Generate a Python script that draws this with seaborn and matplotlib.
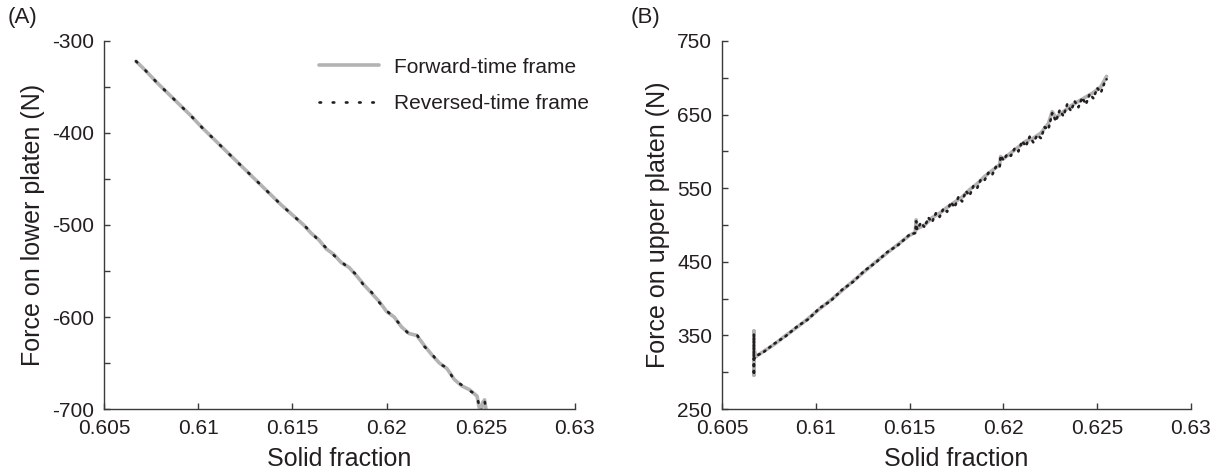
import matplotlib
matplotlib.use("Agg")
import matplotlib.pyplot as plt
from matplotlib.ticker import FixedLocator, MultipleLocator
import seaborn as sns

# ---------------- data ----------------
# (A) force on the lower platen vs solid fraction
lower_fwd_x = [0.6067, 0.6072, 0.6078, 0.6084, 0.6090, 0.6096, 0.6102, 0.6108,
               0.6114, 0.6120, 0.6126, 0.6132, 0.6138, 0.6144, 0.6150, 0.6156,
               0.6160, 0.6164, 0.6168, 0.6172, 0.6176, 0.6180, 0.6184, 0.6188,
               0.6192, 0.6196, 0.6200, 0.6204, 0.6208, 0.6212, 0.6216, 0.6220,
               0.6224, 0.6228, 0.6232, 0.6236, 0.6240, 0.6244, 0.6248, 0.6249,
               0.6250, 0.6251, 0.6252, 0.6253]
lower_fwd_y = [-322, -332, -345, -357, -369, -381, -394, -406,
               -418, -430, -442, -454, -466, -478, -489, -500,
               -509, -516, -526, -532, -541, -546, -555, -565,
               -574, -583, -594, -600, -611, -618, -620, -631,
               -641, -650, -656, -668, -675, -679, -686, -697,
               -705, -693, -690, -704]

lower_rev_x = lower_fwd_x
lower_rev_y = [-322, -332, -345, -357, -369, -381, -394, -406,
               -418, -430, -442, -454, -466, -478, -489, -500,
               -508, -517, -525, -533, -540, -547, -554, -566,
               -573, -584, -593, -601, -610, -619, -619, -632,
               -640, -651, -655, -669, -674, -680, -685, -696,
               -704, -692, -691, -703]

# (B) force on the upper platen vs solid fraction
upper_fwd_x = [0.6067, 0.6067, 0.6067, 0.6067, 0.6067, 0.6068, 0.6072, 0.6078,
               0.6084, 0.6090, 0.6096, 0.6102, 0.6108, 0.6114, 0.6120, 0.6126,
               0.6132, 0.6138, 0.6144, 0.6150, 0.6153, 0.61535, 0.6154, 0.6158,
               0.6162, 0.6166, 0.6170, 0.6174, 0.6178, 0.6182, 0.6186, 0.6190,
               0.6194, 0.6198, 0.61985, 0.6200, 0.6204, 0.6208, 0.6212, 0.6216,
               0.6220, 0.6224, 0.6226, 0.6228, 0.6232, 0.6236, 0.6240, 0.6244,
               0.6248, 0.6252, 0.6255]
upper_fwd_y = [321, 296, 356, 310, 333, 321, 328, 338,
               350, 361, 373, 386, 398, 411, 424, 437,
               450, 462, 474, 486, 490, 507, 495, 500,
               510, 516, 524, 531, 538, 548, 556, 566,
               574, 582, 593, 590, 598, 606, 614, 618,
               625, 638, 654, 646, 654, 662, 668, 674,
               680, 688, 702]

upper_rev_x = [0.6067, 0.6067, 0.6067, 0.6067, 0.6067, 0.6067, 0.6068, 0.6072,
               0.6078, 0.6084, 0.6090, 0.6096, 0.6102, 0.6108, 0.6114, 0.6120,
               0.6126, 0.6132, 0.6138, 0.6144, 0.6150, 0.6153, 0.61535, 0.6154,
               0.6156, 0.6158, 0.6160, 0.6162, 0.6164, 0.6166, 0.6168, 0.6170,
               0.6172, 0.6174, 0.6176, 0.6178, 0.6180, 0.6182, 0.6184, 0.6186,
               0.6188, 0.6190, 0.6192, 0.6194, 0.6196, 0.6198, 0.61985, 0.6200,
               0.6202, 0.6204, 0.6206, 0.6208, 0.6210, 0.6212, 0.6214, 0.6216,
               0.6218, 0.6220, 0.6222, 0.6224, 0.6226, 0.6228, 0.6230, 0.6232,
               0.6234, 0.6236, 0.6238, 0.6240, 0.6242, 0.6244, 0.6246, 0.6248,
               0.6250, 0.6252, 0.6254, 0.6255]
upper_rev_y = [322, 352, 340, 300, 296, 318, 322, 327,
               339, 349, 362, 372, 387, 397, 412, 423,
               438, 449, 463, 473, 487, 489, 505, 494,
               503, 497, 510, 504, 516, 511, 522, 518,
               531, 524, 538, 532, 546, 540, 553, 550,
               562, 561, 571, 568, 579, 578, 594, 588,
               596, 594, 604, 600, 614, 607, 620, 612,
               622, 618, 633, 630, 652, 641, 656, 648,
               664, 655, 668, 660, 673, 664, 678, 672,
               686, 680, 694, 698]

series_labels = ["Forward-time frame", "Reversed-time frame"]
x_ticks = [0.605, 0.61, 0.615, 0.62, 0.625, 0.63]
x_tick_labels = ["0.605", "0.61", "0.615", "0.62", "0.625", "0.63"]
lower_ticks = [-700, -600, -500, -400, -300]
upper_ticks = [250, 350, 450, 550, 650, 750]

# ---------------- style ----------------
sns.set_style("ticks")
ink = "#231f20"
plt.rcParams.update({
    "font.family": ["Liberation Sans", "DejaVu Sans"],
    "text.color": ink,
    "axes.labelcolor": ink,
    "axes.edgecolor": "#3a3a3a",
    "axes.linewidth": 1.0,
    "xtick.color": "#3a3a3a",
    "ytick.color": "#3a3a3a",
    "xtick.labelcolor": ink,
    "ytick.labelcolor": ink,
    "xtick.direction": "in",
    "ytick.direction": "in",
    "xtick.major.size": 4,
    "ytick.major.size": 4,
    "ytick.minor.size": 4,
    "xtick.major.width": 1.0,
    "ytick.major.width": 1.0,
    "ytick.minor.width": 1.0,
})

grey = "#b3b3b3"
grey_kw = dict(color=grey, linewidth=2.6)
dot_kw = dict(color=ink, linewidth=1.9, dashes=(0.6, 4.4),
              dash_capstyle="round")
dense_dot_kw = dict(color=ink, linewidth=1.9, dashes=(0.6, 1.9),
                    dash_capstyle="round")

fig = plt.figure(figsize=(12.13, 4.73), dpi=100)
axA = fig.add_axes([104 / 1213, 64 / 473, 471 / 1213, 368 / 473])
axB = fig.add_axes([722 / 1213, 64 / 473, 469 / 1213, 368 / 473])

# panel A
sns.lineplot(x=lower_fwd_x, y=lower_fwd_y, estimator=None, sort=False,
             ax=axA, label=series_labels[0], **grey_kw)
sns.lineplot(x=lower_rev_x, y=lower_rev_y, estimator=None, sort=False,
             ax=axA, label=series_labels[1], **dot_kw)

# panel B
sns.lineplot(x=upper_fwd_x, y=upper_fwd_y, estimator=None, sort=False,
             ax=axB, **grey_kw)
sns.lineplot(x=upper_rev_x, y=upper_rev_y, estimator=None, sort=False,
             ax=axB, **dense_dot_kw)

tick_fs = 15
label_fs = 18

for ax, yticks, ylabel in [(axA, lower_ticks, "Force on lower platen (N)"),
                           (axB, upper_ticks, "Force on upper platen (N)")]:
    ax.set_xlim(x_ticks[0], x_ticks[-1])
    ax.set_ylim(yticks[0], yticks[-1])
    ax.xaxis.set_major_locator(FixedLocator(x_ticks))
    ax.set_xticklabels(x_tick_labels, fontsize=tick_fs)
    ax.yaxis.set_major_locator(FixedLocator(yticks))
    ax.yaxis.set_minor_locator(MultipleLocator(50))
    ax.set_yticklabels([str(t) for t in yticks], fontsize=tick_fs)
    ax.tick_params(axis="x", pad=7)
    ax.tick_params(axis="y", pad=7)
    ax.set_xlabel("Solid fraction", fontsize=label_fs, labelpad=7)
    ax.set_ylabel(ylabel, fontsize=label_fs, labelpad=5)
    sns.despine(ax=ax)

leg = axA.legend(loc="upper right", bbox_to_anchor=(1.03, 0.955), frameon=False,
                 fontsize=15, handlelength=2.85, handletextpad=0.75,
                 labelspacing=0.85, borderpad=0, borderaxespad=0)
for t in leg.get_texts():
    t.set_color(ink)

fig.text(8 / 1213, 1 - 18 / 473, "(A)", fontsize=16, va="center", ha="left")
fig.text(631 / 1213, 1 - 18 / 473, "(B)", fontsize=16, va="center", ha="left")

fig.savefig("out.png", dpi=100)
